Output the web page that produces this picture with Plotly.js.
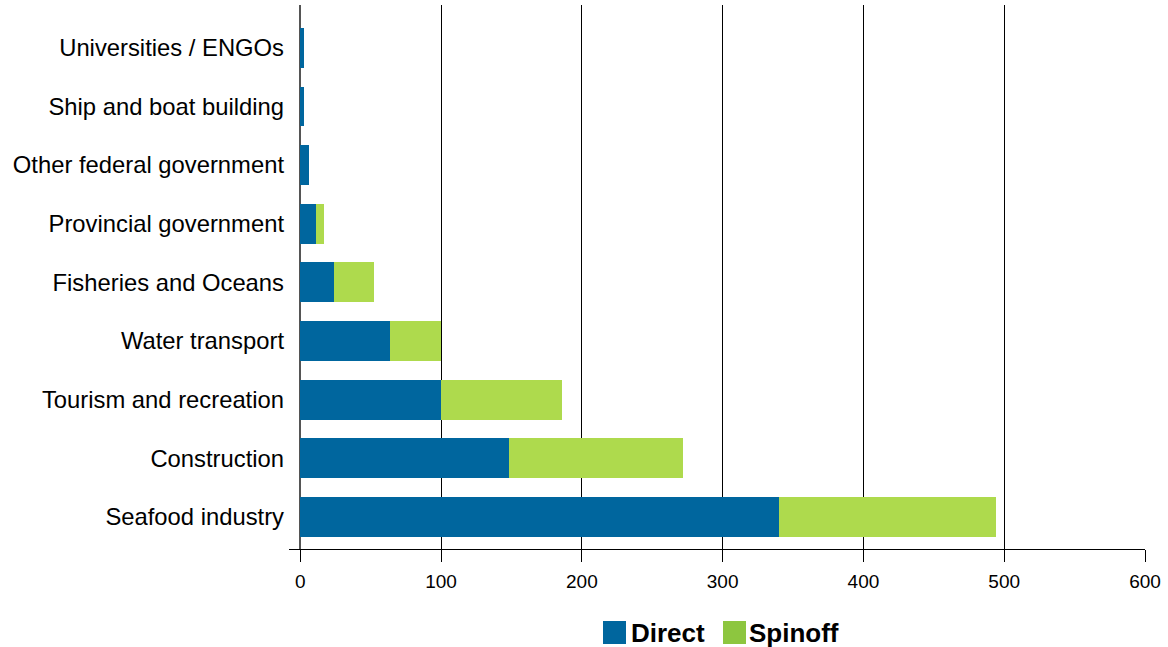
<!DOCTYPE html>
<html>
<head>
<meta charset="utf-8">
<script src="https://cdn.plot.ly/plotly-3.0.1.min.js"></script>
<style>html,body{margin:0;padding:0;background:#fff;}#chart{width:1168px;height:647px;}</style>
</head>
<body>
<div id="chart"></div>
<script>
const categories = ["Seafood industry","Construction","Tourism and recreation","Water transport","Fisheries and Oceans","Provincial government","Other federal government","Ship and boat building","Universities / ENGOs"];
const directValues = [340, 148, 100, 64, 24, 11, 6.5, 3, 3];
const spinoffValues = [154, 124, 86, 36, 28.5, 6, 0, 0, 0];
const xTicks = [0, 100, 200, 300, 400, 500, 600];
const seriesNames = ["Direct", "Spinoff"];

const blue = "#00669E";
const green = "#AEDA4D";
const legendGreen = "#8DC63F";

const traces = [
  {type:"bar", orientation:"h", name:seriesNames[0], y:categories, x:directValues, marker:{color:blue}, hoverinfo:"x+y"},
  {type:"bar", orientation:"h", name:seriesNames[1], y:categories, x:spinoffValues, marker:{color:green}, hoverinfo:"x+y"}
];

const layout = {
  width:1168, height:647,
  margin:{l:289, r:23, t:5, b:98},
  barmode:"stack",
  bargap:0.32,
  showlegend:false,
  paper_bgcolor:"#fff", plot_bgcolor:"#fff",
  font:{family:"Liberation Sans, Arial, sans-serif", color:"#000"},
  xaxis:{
    range:[-8, 600], tickvals:xTicks, ticktext:xTicks.map(String),
    showgrid:true, gridcolor:"#000", gridwidth:1,
    zeroline:true, zerolinecolor:"#555", zerolinewidth:2,
    showline:true, linecolor:"#000", linewidth:1,
    ticks:"outside", ticklen:12, tickcolor:"#000", tickwidth:1,
    tickfont:{size:19, color:"#000"}, ticklabelstandoff:3, fixedrange:true
  },
  yaxis:{
    type:"category", range:[-0.546, 8.73],
    showgrid:false, zeroline:false, showline:false, ticks:"",
    tickfont:{size:23.8, color:"#000"}, ticklabelstandoff:4, fixedrange:true
  },
  shapes:[
    {type:"rect", xref:"paper", yref:"paper", x0:(603-289)/856, x1:(626-289)/856, y0:-(621-549)/544, y1:-(644-549)/544, fillcolor:blue, line:{width:0}},
    {type:"rect", xref:"paper", yref:"paper", x0:(723-289)/856, x1:(746-289)/856, y0:-(621-549)/544, y1:-(644-549)/544, fillcolor:legendGreen, line:{width:0}}
  ],
  annotations:[
    {xref:"paper", yref:"paper", x:(629-289)/856, y:-(633-549)/544, xanchor:"left", yanchor:"middle", text:"<b>"+seriesNames[0]+"</b>", showarrow:false, font:{size:26, color:"#000"}},
    {xref:"paper", yref:"paper", x:(747-289)/856, y:-(633-549)/544, xanchor:"left", yanchor:"middle", text:"<b>"+seriesNames[1]+"</b>", showarrow:false, font:{size:26, color:"#000"}}
  ]
};

Plotly.newPlot("chart", traces, layout, {displayModeBar:false, staticPlot:true});
</script>
</body>
</html>
